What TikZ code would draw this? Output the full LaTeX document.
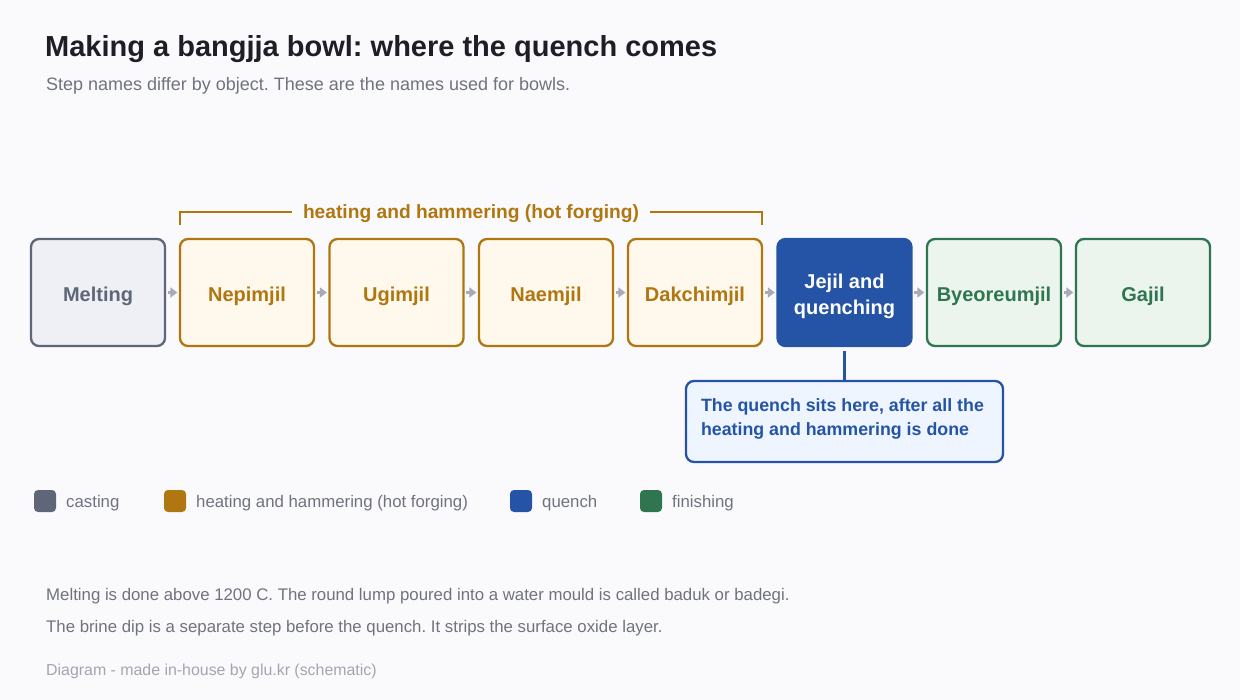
\documentclass[tikz,border=0pt]{standalone}
\usepackage{fontspec}
\setmainfont{Liberation Sans}
\usetikzlibrary{arrows.meta}
\frenchspacing
\definecolor{bg}{HTML}{FAFAFD}
\definecolor{castS}{HTML}{5F6678}
\definecolor{castF}{HTML}{EFF0F5}
\definecolor{hotS}{HTML}{B07610}
\definecolor{hotF}{HTML}{FFF8EC}
\definecolor{qS}{HTML}{2554A6}
\definecolor{qF}{HTML}{EEF5FE}
\definecolor{finS}{HTML}{2E7550}
\definecolor{finF}{HTML}{EBF5EE}
\definecolor{titleC}{HTML}{1E1F26}
\definecolor{subC}{HTML}{70737F}
\definecolor{footC}{HTML}{A3A5B0}
\definecolor{arrC}{HTML}{A8AAB6}
\tikzset{
  stepbox/.style={rounded corners=8pt, line width=2.3pt, minimum width=134pt, minimum height=107pt,
    align=center, font=\fontsize{20}{26}\selectfont\bfseries, inner sep=0pt},
  onel/.style={text height=17.5pt, text depth=0pt},
  castbox/.style={stepbox, onel, draw=castS, fill=castF, text=castS},
  hotbox/.style={stepbox, onel, draw=hotS, fill=hotF, text=hotS},
  qbox/.style={stepbox, draw=qS, fill=qS, text=white},
  finbox/.style={stepbox, onel, draw=finS, fill=finF, text=finS},
  flow/.style={draw=arrC, line width=3pt, shorten <=1.5pt, shorten >=1.5pt, -{Triangle[length=7pt,width=10pt]}},
  legsq/.style={rounded corners=4pt, minimum size=22pt, inner sep=0pt},
  legtxt/.style={anchor=base west, text=subC, font=\fontsize{16.8}{20}\selectfont, inner sep=0pt},
  txt/.style={anchor=base west, inner sep=0pt},
}
\begin{document}
\begin{tikzpicture}[x=1pt,y=-1pt]
\fill[bg] (0,0) rectangle (1240,700);
\useasboundingbox (0,0) rectangle (1240,700);
% title
\node[txt, text=titleC, font=\fontsize{29}{34}\selectfont\bfseries] (title) at (45,57) {Making a bangjja bowl: where the quench comes};
\node[txt, text=subC, font=\fontsize{18}{21}\selectfont] (sub) at (46,91) {Step names differ by object. These are the names used for bowls.};
% boxes
\node[castbox] (melt) at (98,292.5) {Melting};
\node[hotbox] (nep) at (247,292.5) {Nepimjil};
\node[hotbox] (ugi) at (396.5,292.5) {Ugimjil};
\node[hotbox] (nae) at (546,292.5) {Naemjil};
\node[hotbox] (dak) at (695,292.5) {Dakchimjil};
\node[qbox] (jej) at (844.5,292.5) {\raisebox{-9pt}[0pt][0pt]{\begin{tabular}{@{}c@{}}Jejil and\\quenching\end{tabular}}};
\node[finbox] (bye) at (994,292.5) {Byeoreumjil};
\node[finbox] (gaj) at (1143,292.5) {Gajil};
\foreach \a/\b in {melt/nep,nep/ugi,ugi/nae,nae/dak,dak/jej,jej/bye,bye/gaj}
  \draw[flow] (\a.east) -- (\b.west);
% bracket
\coordinate (bl) at (180,225);
\coordinate (br) at (762,225);
\draw[hotS, line width=2.3pt] (bl) -- (180,212) -- (762,212) -- (br);
\node[fill=bg, inner xsep=11pt, inner ysep=3pt, text height=13.7pt, text depth=0pt, text=hotS, font=\fontsize{19.2}{22}\selectfont\bfseries] (brl) at (471,212) {heating and hammering (hot forging)};
% callout
\node[rounded corners=8pt, line width=2.3pt, draw=qS, fill=qF, text=qS, minimum width=317pt, minimum height=81pt,
  inner sep=0pt, font=\fontsize{17.8}{24}\selectfont\bfseries] (call) at (844.5,421.5)
  {\raisebox{-1.5pt}[0pt][0pt]{\parbox{287pt}{\raggedright The quench sits here, after all the\\heating and hammering is done}}};
\draw[qS, line width=2.3pt, shorten <=4pt] (jej.south) -- (call.north);
% legend
\node[legsq, fill=castS] (l1) at (45,501) {};
\node[legtxt] (l1t) at (66,507) {casting};
\node[legsq, fill=hotS] (l2) at (175,501) {};
\node[legtxt] (l2t) at (196,507) {heating and hammering (hot forging)};
\node[legsq, fill=qS] (l3) at (521,501) {};
\node[legtxt] (l3t) at (542,507) {quench};
\node[legsq, fill=finS] (l4) at (651,501) {};
\node[legtxt] (l4t) at (672,507) {finishing};
% notes
\node[txt, text=subC, font=\fontsize{16.8}{19}\selectfont] (n1) at (46,600) {Melting is done above 1200 C. The round lump poured into a water mould is called baduk or badegi.};
\node[txt, text=subC, font=\fontsize{16.8}{19}\selectfont] (n2) at (46,632) {The brine dip is a separate step before the quench. It strips the surface oxide layer.};
\node[txt, text=footC, font=\fontsize{15.9}{18}\selectfont] (foot) at (46,675) {Diagram - made in-house by glu.kr (schematic)};
\end{tikzpicture}
\end{document}
